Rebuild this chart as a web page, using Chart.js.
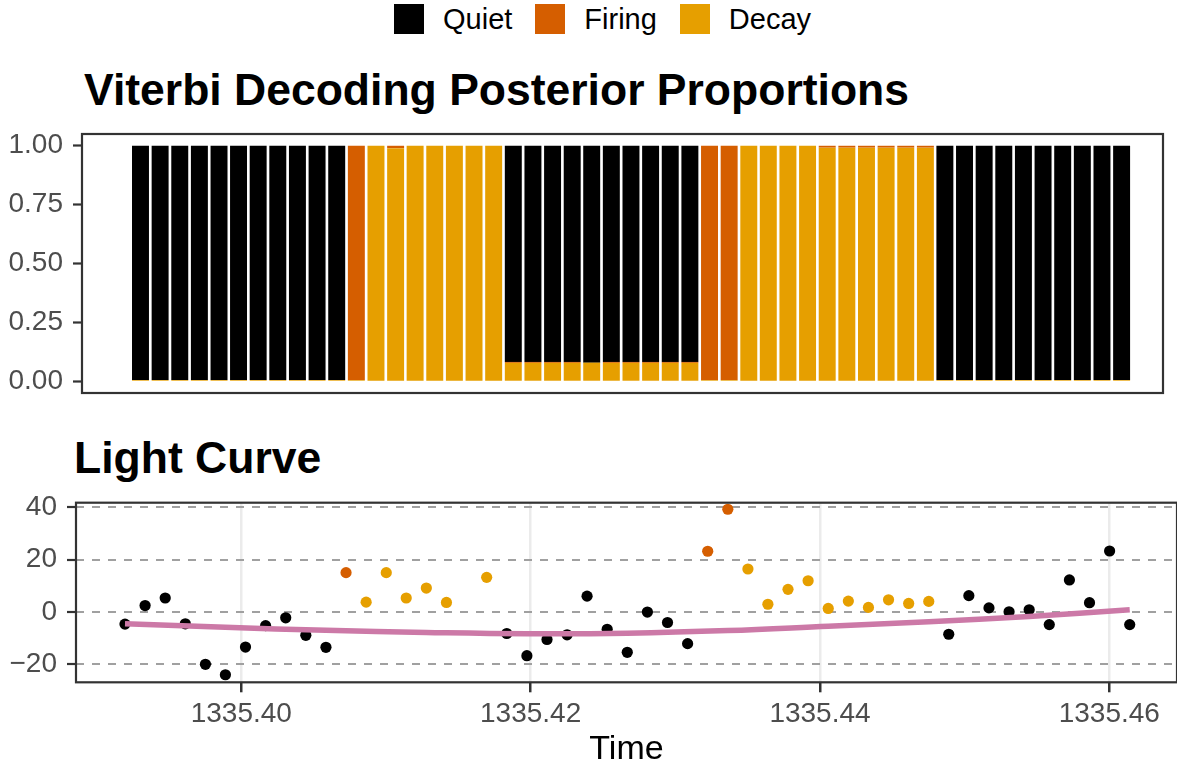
<!DOCTYPE html>
<html>
<head>
<meta charset="utf-8">
<script src="https://cdn.jsdelivr.net/npm/chart.js@4.4.1/dist/chart.umd.min.js"></script>
<style>
  body { margin: 0; width: 1177px; height: 770px; overflow: hidden; background: #fff; position: relative;
         font-family: "Liberation Sans", Arial, Helvetica, sans-serif; }
  .abs { position: absolute; }
  .title { font-size: 44.5px; line-height: 44px; font-weight: bold; color: #000; white-space: nowrap; }
  #legend { left: 394px; top: 4px; display: flex; align-items: center; height: 30px; }
  #legend .item { display: flex; align-items: center; margin-right: 23px; }
  #legend .key { width: 30px; height: 30px; margin-right: 19px; }
  #legend .lab { font-size: 29px; line-height: 29px; color: #000; white-space: nowrap; }
  #wrapTop { left: 0; top: 120px; width: 1177px; height: 290px; }
  #wrapBottom { left: 0; top: 490px; width: 1177px; height: 280px; }
</style>
</head>
<body>
<div id="legend" class="abs"></div>
<div class="abs title" style="left:84px; top:68px;">Viterbi Decoding Posterior Proportions</div>
<div class="abs title" style="left:74px; top:436px;">Light Curve</div>
<div id="wrapTop" class="abs"><canvas id="chartTop" width="1177" height="290"></canvas></div>
<div id="wrapBottom" class="abs"><canvas id="chartBottom" width="1177" height="280"></canvas></div>

<script>
// observation times (days)
const times = [
  1335.39196, 1335.39335, 1335.39474, 1335.39613, 1335.39752, 1335.39890, 1335.40029, 1335.40168,
  1335.40307, 1335.40446, 1335.40585, 1335.40724, 1335.40863, 1335.41002, 1335.41140, 1335.41279,
  1335.41418, 1335.41557, 1335.41696, 1335.41835, 1335.41974, 1335.42113, 1335.42252, 1335.42390,
  1335.42529, 1335.42668, 1335.42807, 1335.42946, 1335.43085, 1335.43224, 1335.43363, 1335.43502,
  1335.43640, 1335.43779, 1335.43918, 1335.44057, 1335.44196, 1335.44335, 1335.44474, 1335.44613,
  1335.44752, 1335.44890, 1335.45029, 1335.45168, 1335.45307, 1335.45446, 1335.45585, 1335.45724,
  1335.45863, 1335.46002, 1335.46141
];

// viterbi state for each time
const states = [
  "Quiet", "Quiet", "Quiet", "Quiet", "Quiet", "Quiet", "Quiet", "Quiet", "Quiet", "Quiet", "Quiet",
  "Firing",
  "Decay", "Decay", "Decay", "Decay", "Decay", "Decay", "Decay",
  "Quiet", "Quiet", "Quiet", "Quiet", "Quiet", "Quiet", "Quiet", "Quiet", "Quiet", "Quiet",
  "Firing", "Firing",
  "Decay", "Decay", "Decay", "Decay", "Decay", "Decay", "Decay", "Decay", "Decay", "Decay",
  "Quiet", "Quiet", "Quiet", "Quiet", "Quiet", "Quiet", "Quiet", "Quiet", "Quiet", "Quiet"
];

// flux (one missing value)
const flux = [
  -4.7, 2.4, 5.3, -4.6, -20.1, -24.1, -13.5, -5.3, -2.3, -9.0, -13.6,
  15.0,
  3.7, 15.0, 5.3, 9.1, 3.6, null, 13.2,
  -8.3, -16.8, -10.6, -8.8, 6.0, -6.7, -15.5, -0.1, -4.1, -12.2,
  23.2, 39.3,
  16.4, 2.9, 8.6, 11.9, 1.3, 4.1, 1.7, 4.6, 3.2, 4.0,
  -8.6, 6.2, 1.5, 0.0, 0.8, -4.9, 12.2, 3.5, 23.3, -4.9
];

// posterior proportions
const quiet = [
  0.995, 0.995, 0.995, 0.995, 0.995, 0.995, 0.995, 0.995, 0.995, 0.995, 0.995,
  0,
  0, 0, 0, 0, 0, 0, 0,
  0.918, 0.918, 0.918, 0.918, 0.921, 0.918, 0.918, 0.918, 0.918, 0.918,
  0, 0,
  0, 0, 0, 0, 0, 0, 0, 0, 0, 0,
  0.995, 0.995, 0.995, 0.995, 0.995, 0.995, 0.995, 0.995, 0.995, 0.995
];
const firing = [
  0, 0, 0, 0, 0, 0, 0, 0, 0, 0, 0,
  0.995,
  0, 0.01, 0, 0, 0, 0, 0,
  0.004, 0.004, 0.004, 0.004, 0, 0.004, 0.004, 0.004, 0.004, 0.004,
  0.995, 0.995,
  0, 0, 0, 0, 0.008, 0.008, 0.008, 0.008, 0.008, 0.008,
  0, 0, 0, 0, 0, 0, 0, 0, 0, 0
];
const decay = [
  0.005, 0.005, 0.005, 0.005, 0.005, 0.005, 0.005, 0.005, 0.005, 0.005, 0.005,
  0.005,
  1, 0.99, 1, 1, 1, 1, 1,
  0.078, 0.078, 0.078, 0.078, 0.079, 0.078, 0.078, 0.078, 0.078, 0.078,
  0.005, 0.005,
  1, 1, 1, 1, 0.992, 0.992, 0.992, 0.992, 0.992, 0.992,
  0.005, 0.005, 0.005, 0.005, 0.005, 0.005, 0.005, 0.005, 0.005, 0.005
];

// smooth trend
const fitTimes = [1335.39196, 1335.39890, 1335.40585, 1335.41279, 1335.41974, 1335.42668,
                  1335.43363, 1335.44057, 1335.44752, 1335.45446, 1335.46141];
const fitFlux = [-4.6, -5.9, -7.1, -7.9, -8.4, -8.2, -7.2, -5.5, -3.8, -1.8, 0.8];

const stateNames = ["Quiet", "Firing", "Decay"];
const propTicks = [0, 0.25, 0.5, 0.75, 1];
const fluxTicks = [-20, 0, 20, 40];
const timeTicks = [1335.40, 1335.42, 1335.44, 1335.46];

const colors = { Quiet: "#000000", Firing: "#D55E00", Decay: "#E69F00" };
const fam = "'Liberation Sans', Arial, Helvetica, sans-serif";
const tickGrey = "#4D4D4D";
const dark = "#333333";

// legend
const legend = document.getElementById("legend");
stateNames.forEach((s) => {
    const item = document.createElement("div");
    item.className = "item";
    item.innerHTML = '<div class="key" style="background:' + colors[s] + '"></div><div class="lab">' + s + '</div>';
    legend.appendChild(item);
});

// panel border drawn over the data
const panelBox = {
    id: "panelBox",
    afterDatasetsDraw(chart) {
        const a = chart.chartArea;
        const ctx = chart.ctx;
        ctx.save();
        ctx.strokeStyle = dark;
        ctx.lineWidth = 2.2;
        ctx.strokeRect(a.left, a.top, a.right - a.left, a.bottom - a.top);
        ctx.restore();
    }
};

const noPad = (s) => { s.paddingTop = 0; s.paddingBottom = 0; s.paddingLeft = 0; s.paddingRight = 0; };

// top: stacked proportions
const ex1 = document.getElementById("chartTop");
new Chart(ex1, {
    type: "bar",
    data: {
        datasets: [
            { label: "Decay", data: times.map((t, i) => ({ x: t, y: decay[i] })), backgroundColor: colors.Decay },
            { label: "Firing", data: times.map((t, i) => ({ x: t, y: firing[i] })), backgroundColor: colors.Firing },
            { label: "Quiet", data: times.map((t, i) => ({ x: t, y: quiet[i] })), backgroundColor: colors.Quiet }
        ]
    },
    options: {
        responsive: false,
        animation: false,
        devicePixelRatio: 1,
        layout: { autoPadding: false, padding: { top: 14, bottom: 17, left: 0, right: 14 } },
        datasets: { bar: { barPercentage: 0.87, categoryPercentage: 1.0, borderWidth: 0 } },
        plugins: { legend: { display: false }, tooltip: { enabled: false } },
        scales: {
            x: {
                type: "linear", stacked: true, display: false, offset: false,
                min: 1335.38782, max: 1335.46434,
                grid: { offset: false }
            },
            y: {
                stacked: true, min: -0.05, max: 1.05,
                afterBuildTicks: (s) => { s.ticks = propTicks.map((v) => ({ value: v })); },
                afterFit: (s) => { s.width = 82; noPad(s); },
                grid: { drawOnChartArea: false, tickLength: 9, tickColor: dark, tickWidth: 2.2 },
                border: { display: false },
                ticks: {
                    color: tickGrey, padding: 10, font: { family: fam, size: 28 },
                    callback: (v) => Number(v).toFixed(2)
                }
            }
        }
    },
    plugins: [panelBox]
});

// bottom: light curve
const ex2 = document.getElementById("chartBottom");
new Chart(ex2, {
    type: "scatter",
    data: {
        datasets: [
            {
                type: "line",
                label: "trend",
                data: fitTimes.map((t, i) => ({ x: t, y: fitFlux[i] })),
                borderColor: "#CC79A7",
                borderWidth: 5.5,
                pointRadius: 0,
                tension: 0.4,
                fill: false
            },
            {
                label: "flux",
                data: times.map((t, i) => ({ x: t, y: flux[i] })),
                pointRadius: 5.6,
                pointBorderWidth: 0,
                pointBackgroundColor: states.map((s) => colors[s])
            }
        ]
    },
    options: {
        responsive: false,
        animation: false,
        devicePixelRatio: 1,
        layout: { autoPadding: false, padding: { top: 12.7, bottom: 0, left: 0, right: 0 } },
        plugins: { legend: { display: false }, tooltip: { enabled: false } },
        scales: {
            x: {
                type: "linear", min: 1335.388574, max: 1335.464678,
                afterBuildTicks: (s) => { s.ticks = timeTicks.map((v) => ({ value: v })); },
                afterFit: (s) => { s.height = 87.7; noPad(s); },
                grid: { color: "#EBEBEB", lineWidth: 2.5, tickLength: 10, tickColor: dark, tickWidth: 2.5 },
                border: { display: false },
                ticks: {
                    color: tickGrey, padding: 5, autoSkip: false, maxRotation: 0,
                    font: { family: fam, size: 28 },
                    callback: (v) => Number(v).toFixed(2)
                },
                title: {
                    display: true, text: "Time", color: "#000",
                    font: { family: fam, size: 34 }, padding: { top: 0, bottom: 0 }
                }
            },
            y: {
                min: -27.0, max: 41.8,
                afterBuildTicks: (s) => { s.ticks = fluxTicks.map((v) => ({ value: v })); },
                afterFit: (s) => { s.width = 76; noPad(s); },
                grid: { color: "#A0A0A0", lineWidth: 2, tickLength: 9, tickColor: dark, tickWidth: 2.2 },
                border: { display: false, dash: [8, 8] },
                ticks: {
                    color: tickGrey, padding: 10, font: { family: fam, size: 28 },
                    callback: (v) => (v < 0 ? "\u2212" + Math.abs(v) : String(v))
                }
            }
        }
    },
    plugins: [panelBox]
});
</script>
</body>
</html>
